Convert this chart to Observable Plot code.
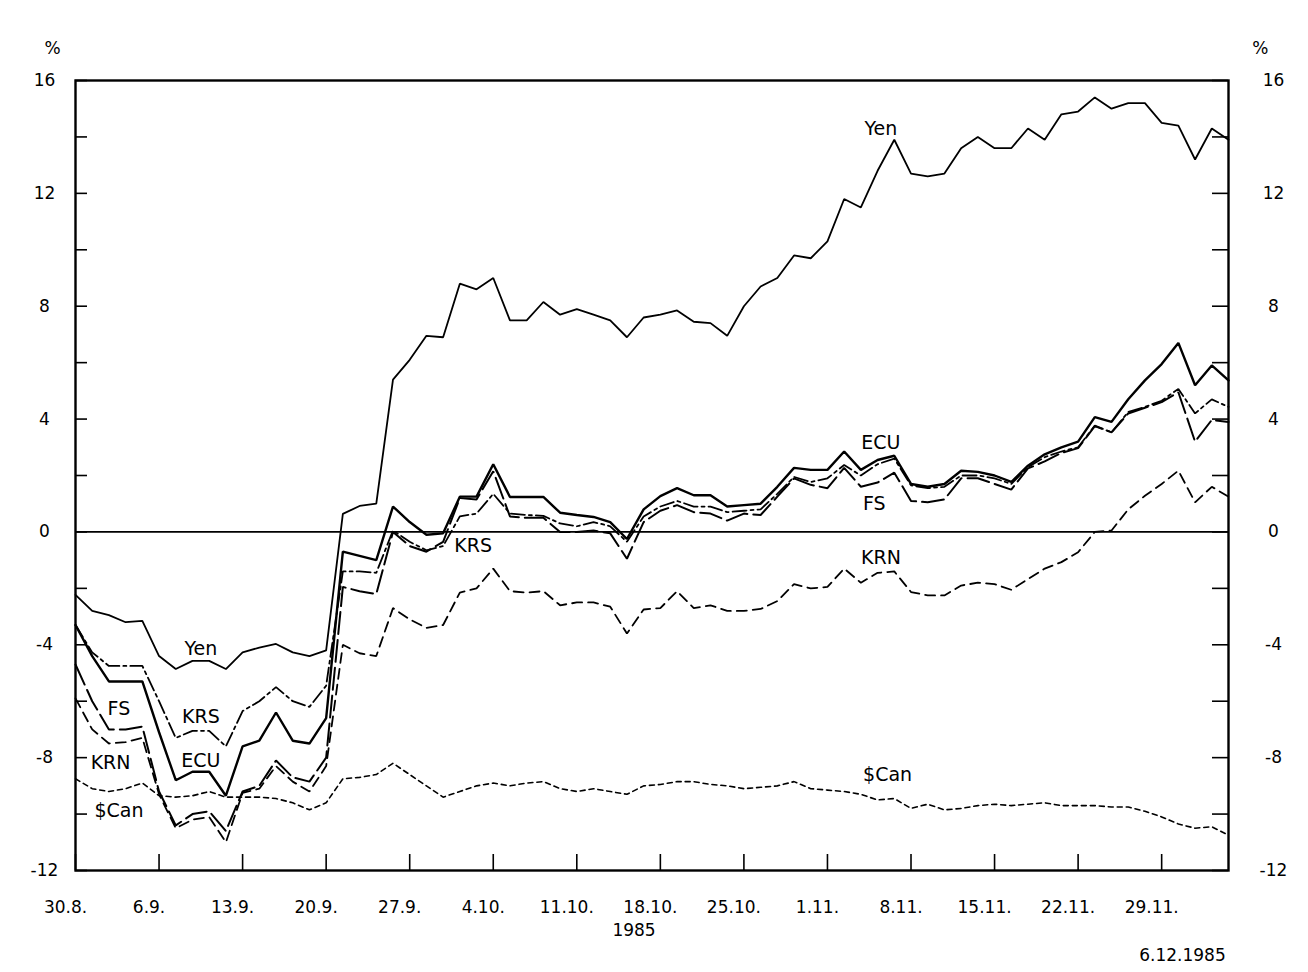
<!DOCTYPE html>
<html><head><meta charset="utf-8">
<script src="https://cdn.jsdelivr.net/npm/d3@7"></script>
<script src="https://cdn.jsdelivr.net/npm/@observablehq/plot@0.6"></script>
<style>body{margin:0;background:#fff}</style>
</head><body><div id="chart"></div>
<script>
// business days 30.8.1985 (index 0) ... 5.12.1985 (index 69)
const weekLabels = ["30.8.","6.9.","13.9.","20.9.","27.9.","4.10.","11.10.","18.10.","25.10.","1.11.","8.11.","15.11.","22.11.","29.11."];
const weekTicks = [0,5,10,15,20,25,30,35,40,45,50,55,60,65];
const yTickLabels = [-12,-8,-4,0,4,8,12,16];
const yTickMarks = [-12,-10,-8,-6,-4,-2,0,2,4,6,8,10,12,14,16];

const yen = [-2.23,-2.8,-2.95,-3.2,-3.15,-4.4,-4.86,-4.57,-4.57,-4.86,-4.27,-4.1,-3.97,-4.27,-4.4,-4.2,
  0.64,0.92,1.0,5.4,6.1,6.95,6.9,8.8,8.6,9.0,7.5,7.5,8.15,7.7,7.9,7.7,7.5,6.9,7.6,7.7,7.85,7.45,7.4,6.95,
  8.0,8.7,9.0,9.8,9.7,10.3,11.8,11.5,12.8,13.9,12.7,12.6,12.7,13.6,14.0,13.6,13.6,14.3,13.9,14.8,14.9,15.4,
  15.0,15.2,15.2,14.5,14.4,13.2,14.3,13.9];
const ecu = [-3.3,-4.4,-5.3,-5.3,-5.3,-7.1,-8.8,-8.5,-8.5,-9.35,-7.6,-7.4,-6.4,-7.4,-7.5,-6.6,
  -0.7,-0.85,-1.0,0.9,0.35,-0.1,-0.05,1.25,1.25,2.4,1.24,1.24,1.24,0.68,0.6,0.53,0.35,-0.25,0.8,1.27,1.55,1.3,1.3,0.9,
  0.95,1.0,1.6,2.27,2.2,2.2,2.85,2.2,2.55,2.7,1.7,1.6,1.7,2.17,2.13,2.0,1.77,2.35,2.75,3.0,3.2,4.07,
  3.9,4.7,5.37,5.95,6.7,5.2,5.9,5.37];
const fs = [-4.7,-6.0,-7.0,-7.0,-6.9,-9.2,-10.4,-10.0,-9.9,-10.6,-9.2,-9.0,-8.1,-8.7,-8.85,-8.0,
  -1.95,-2.1,-2.2,0.0,-0.5,-0.7,-0.35,1.2,1.15,2.15,0.55,0.5,0.5,0.0,0.0,0.05,-0.05,-0.95,0.35,0.75,0.95,0.7,0.65,0.4,
  0.65,0.6,1.25,1.9,1.67,1.55,2.27,1.6,1.75,2.1,1.1,1.05,1.15,1.9,1.9,1.7,1.5,2.25,2.5,2.8,2.97,3.75,
  3.53,4.2,4.4,4.6,4.95,3.2,3.97,3.9];
const krs = [-3.3,-4.27,-4.75,-4.75,-4.75,-6.0,-7.3,-7.05,-7.05,-7.6,-6.35,-6.0,-5.5,-6.0,-6.2,-5.45,
  -1.4,-1.4,-1.45,0.05,-0.35,-0.65,-0.5,0.55,0.65,1.35,0.65,0.6,0.57,0.3,0.2,0.35,0.2,-0.35,0.55,0.9,1.1,0.9,0.9,0.7,
  0.75,0.8,1.35,1.95,1.77,1.9,2.37,2.0,2.4,2.6,1.65,1.55,1.6,2.0,2.0,1.9,1.7,2.3,2.65,2.85,3.0,3.77,
  3.53,4.25,4.43,4.65,5.07,4.2,4.7,4.43];
const krn = [-5.9,-7.0,-7.5,-7.45,-7.3,-9.3,-10.5,-10.2,-10.1,-11.0,-9.25,-9.1,-8.3,-8.85,-9.2,-8.3,
  -4.0,-4.3,-4.4,-2.7,-3.1,-3.4,-3.3,-2.15,-2.0,-1.3,-2.1,-2.15,-2.1,-2.6,-2.5,-2.5,-2.65,-3.6,-2.75,-2.7,-2.1,-2.7,-2.6,-2.8,
  -2.8,-2.73,-2.45,-1.85,-2.0,-1.95,-1.3,-1.8,-1.45,-1.4,-2.13,-2.25,-2.25,-1.9,-1.8,-1.85,-2.05,-1.67,-1.3,-1.07,-0.72,0.0,
  0.05,0.8,1.28,1.7,2.17,1.05,1.6,1.25];
const can = [-8.75,-9.1,-9.2,-9.1,-8.9,-9.35,-9.4,-9.35,-9.2,-9.4,-9.4,-9.4,-9.45,-9.6,-9.85,-9.6,
  -8.75,-8.7,-8.6,-8.2,-8.6,-9.0,-9.4,-9.2,-9.0,-8.9,-9.0,-8.9,-8.85,-9.1,-9.2,-9.1,-9.2,-9.3,-9.0,-8.95,-8.85,-8.85,-8.95,-9.0,
  -9.1,-9.05,-9.0,-8.85,-9.1,-9.15,-9.2,-9.3,-9.5,-9.45,-9.8,-9.65,-9.85,-9.8,-9.7,-9.65,-9.7,-9.65,-9.6,-9.7,-9.7,-9.7,
  -9.75,-9.75,-9.9,-10.1,-10.35,-10.5,-10.45,-10.75];

const labelText  = ["Yen","Yen","ECU","ECU","FS","FS","KRS","KRS","KRN","KRN","$Can","$Can"];
const labelDay   = [48.2, 7.5, 48.2, 7.5, 47.8, 2.6, 23.8, 7.5, 48.2, 2.1, 48.6, 2.6];
const labelValue = [14.3,-4.15, 3.15,-8.1, 1.0,-6.27,-0.5,-6.55,-0.92,-8.2,-8.6,-9.9];

const toRows = vals => vals.map((v, i) => ({day: i, value: v}));
const styles = [
  {data: yen, width: 1.8, dash: null},
  {data: ecu, width: 2.4, dash: null},
  {data: fs,  width: 2.0, dash: "22,6"},
  {data: krs, width: 1.8, dash: "14,4,3,4"},
  {data: krn, width: 1.8, dash: "10,6"},
  {data: can, width: 1.6, dash: "5,4"}
];

const W = 1308, H = 972, mL = 75, mR = 80, mT = 80, mB = 102;
const fw = W - mL - mR, fh = H - mT - mB;
const font = "'DejaVu Sans', 'Liberation Sans', sans-serif";

const chart = Plot.plot({
  width: W, height: H,
  marginTop: mT, marginBottom: mB, marginLeft: mL, marginRight: mR,
  x: {domain: [0, 69], axis: null},
  y: {domain: [-12, 16], axis: null},
  style: {fontFamily: font, fontSize: "18px", color: "black", background: "white"},
  marks: [
    Plot.ruleY([0], {stroke: "black", strokeWidth: 1.8}),
    Plot.ruleY(yTickMarks, {stroke: "black", strokeWidth: 1.6, insetRight: fw - 12}),
    Plot.ruleY(yTickMarks, {stroke: "black", strokeWidth: 1.6, insetLeft: fw - 16}),
    Plot.ruleX(weekTicks, {stroke: "black", strokeWidth: 1.6, insetTop: fh - 16}),
    ...styles.map(s => Plot.line(toRows(s.data), {x: "day", y: "value", stroke: "black", strokeWidth: s.width, strokeDasharray: s.dash, strokeLinejoin: "miter"})),
    Plot.frame({stroke: "black", strokeWidth: 2.4}),
    Plot.text(labelText, {x: (d, i) => labelDay[i], y: (d, i) => labelValue[i], text: d => d, fontSize: 19, fill: "black", style: "letter-spacing:1px"}),
    Plot.text(yTickLabels, {y: d => d, text: d => String(d), frameAnchor: "left", dx: -31, textAnchor: "middle", fontSize: 17, fill: "black", style: "letter-spacing:1.5px"}),
    Plot.text(yTickLabels, {y: d => d, text: d => String(d), frameAnchor: "right", dx: 45, textAnchor: "middle", fontSize: 17, fill: "black", style: "letter-spacing:1.5px"}),
    Plot.text(weekLabels, {x: (d, i) => weekTicks[i], text: d => d, frameAnchor: "bottom", dy: 42, dx: -10, textAnchor: "middle", fontSize: 17, fill: "black", style: "letter-spacing:1px"}),
    Plot.text(["1985"], {frameAnchor: "bottom", dy: 65, dx: -18, fontSize: 17, fill: "black", style: "letter-spacing:1.5px"}),
    Plot.text(["6.12.1985"], {frameAnchor: "bottom-right", dy: 90, dx: -46, textAnchor: "middle", fontSize: 17, fill: "black", style: "letter-spacing:1.5px"}),
    Plot.text(["%"], {frameAnchor: "top-left", dx: -31, dy: -39, fontSize: 17, fill: "black"}),
    Plot.text(["%"], {frameAnchor: "top-right", dx: 40, dy: -39, fontSize: 17, fill: "black"})
  ]
});
document.getElementById("chart").appendChild(chart);
</script>
</body></html>
